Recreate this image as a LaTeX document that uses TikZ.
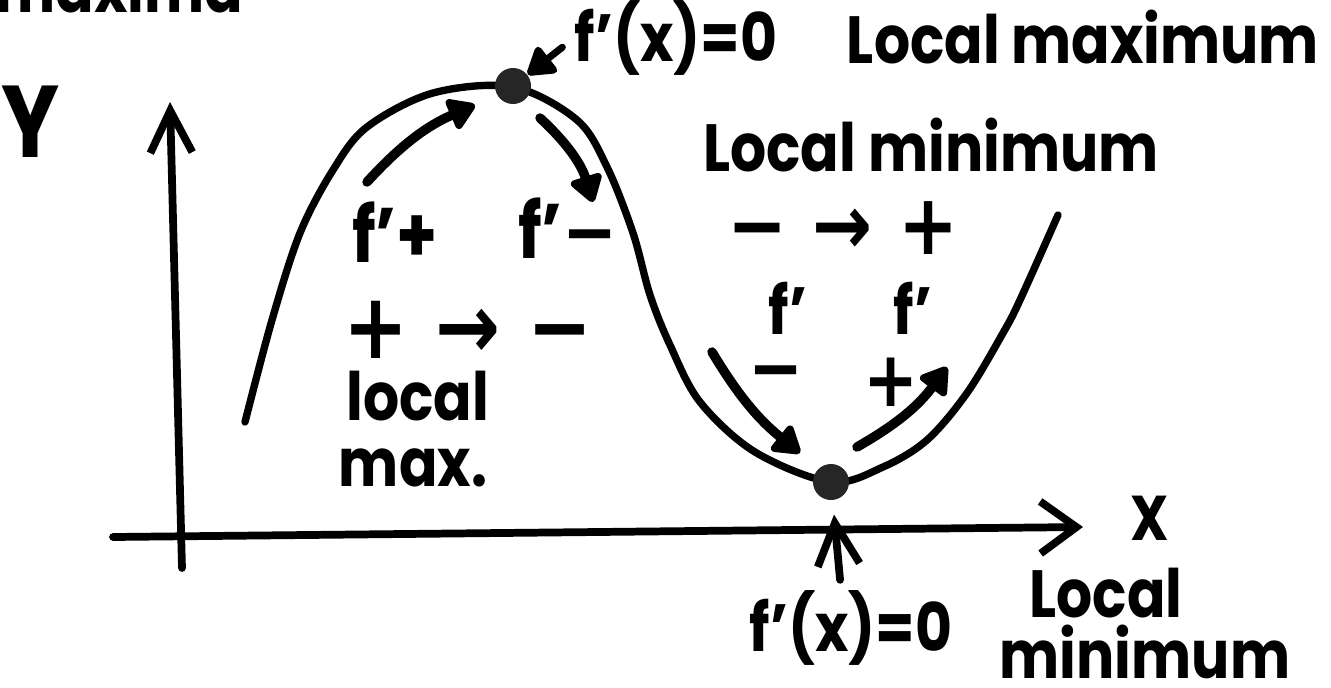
\documentclass[tikz,border=0pt]{standalone}
\usepackage{fontspec}
\setmainfont{Poppins}[FakeStretch=0.85]
\newfontfamily\symf{DejaVu Sans}[FakeStretch=0.85]
\usetikzlibrary{arrows.meta}
\newcommand{\sgnminus}{{\symf −}}
\newcommand{\sgnarrow}{{\symf →}}

\begin{document}
\begin{tikzpicture}[
  hand/.style={font=\bfseries\fontsize{19}{21}\selectfont, inner sep=0pt},
  big/.style={font=\bfseries\fontsize{22}{24}\selectfont, inner sep=0pt},
  signs/.style={font=\symf\bfseries\fontsize{26}{28}\selectfont, inner sep=0pt},
  dot/.style={circle, fill=black!85, minimum size=3.6mm, inner sep=0pt},
  ax/.style={line width=2.2pt, line cap=round, -{Straight Barb[length=4.2mm, width=4.2mm]}},
  flow/.style={line width=2.7pt, line cap=round, -{Triangle[length=3mm, width=3.6mm, round]}}
]
  \useasboundingbox (0,0) rectangle (13.31,-6.87);

  % cut-off heading
  \node[hand, anchor=base west] (cut) at (-0.05,-0.13) {maxima};

  % axes
  \coordinate (yfoot) at (1.82,-5.68);
  \coordinate (ytop) at (1.70,-1.02);
  \coordinate (xfoot) at (1.13,-5.37);
  \coordinate (xtip) at (10.83,-5.27);
  \draw[ax] (yfoot) -- (ytop);
  \draw[ax, -{Straight Barb[length=3.6mm, width=5.2mm]}] (xfoot) -- (xtip);
  \node[hand, font=\bfseries\fontsize{29}{30}\selectfont] (ylab) at (0.31,-1.22) {Y};
  \node[hand, font=\bfseries\fontsize{18}{20}\selectfont] (xlab) at (11.50,-5.18) {X};

  % the function
  \draw[line width=2.1pt, line cap=round] plot[smooth, tension=0.55] coordinates {
    (2.45,-4.22) (2.72,-3.20) (3.00,-2.33) (3.33,-1.70) (3.67,-1.27)
    (4.33,-0.93) (5.13,-0.87) (5.77,-1.20) (6.07,-1.67) (6.33,-2.33)
    (6.50,-2.95) (6.70,-3.45) (7.00,-4.02) (7.55,-4.52)
    (8.31,-4.82) (8.83,-4.67) (9.27,-4.40) (9.67,-3.93) (10.03,-3.33)
    (10.20,-3.00) (10.58,-2.15)};
  \node[dot] (maxdot) at (5.13,-0.86) {};
  \node[dot] (mindot) at (8.31,-4.82) {};

  % labels near the maximum
  \node[hand] (fxtop) at (6.76,-0.38) {f'(x)=0};
  \node[hand] (lmax) at (10.83,-0.37) {Local maximum};
  \node[big] (fplus) at (3.95,-2.32) {f'+};
  \node[big] (fminus) at (5.68,-2.28) {f'\sgnminus};
  \node[signs] (pm) at (4.68,-3.30) {+ \sgnarrow\ \sgnminus};
  \node[hand] (loc) at (4.18,-3.96) {local};
  \node[hand] (mx) at (4.13,-4.68) {max.};

  % labels near the minimum
  \node[hand] (lmin) at (9.31,-1.45) {Local minimum};
  \node[signs, font=\symf\bfseries\fontsize{24}{26}\selectfont] (mp) at (8.43,-2.28) {\sgnminus\ \sgnarrow\ +};
  \node[hand] (fl) at (7.88,-3.08) {f'};
  \node[signs, font=\symf\bfseries\fontsize{22}{24}\selectfont] (fls) at (7.76,-3.80) {\sgnminus};
  \node[hand] (fr) at (9.13,-3.08) {f'};
  \node[signs, font=\symf\bfseries\fontsize{22}{24}\selectfont] (frs) at (8.91,-3.82) {+};
  \node[hand] (fxbot) at (8.51,-6.28) {f'(x)=0};
  \node[hand] (lbot) at (11.06,-5.93) {Local};
  \node[hand] (mbot) at (11.45,-6.52) {minimum};

  % pointers to the dots
  \draw[flow, line width=2pt, shorten <=1.5mm] (fxtop.west) -- (maxdot);
  \draw[ax, shorten <=1mm, shorten >=1.4mm] ([xshift=-1mm]fxbot.north) -- (mindot);

  % direction of travel
  \coordinate (a1s) at (3.67,-1.82);
  \coordinate (a1e) at (4.75,-1.05);
  \coordinate (a2s) at (5.40,-1.18);
  \coordinate (a2e) at (5.93,-2.02);
  \coordinate (a3s) at (7.12,-3.52);
  \coordinate (a3e) at (8.00,-4.53);
  \coordinate (a4s) at (8.57,-4.47);
  \coordinate (a4e) at (9.47,-3.67);
  \draw[flow] (a1s) to[bend left=12] (a1e);
  \draw[flow] (a2s) to[bend left=15] (a2e);
  \draw[flow] (a3s) to[bend right=10] (a3e);
  \draw[flow] (a4s) to[bend right=12] (a4e);
\end{tikzpicture}
\end{document}
